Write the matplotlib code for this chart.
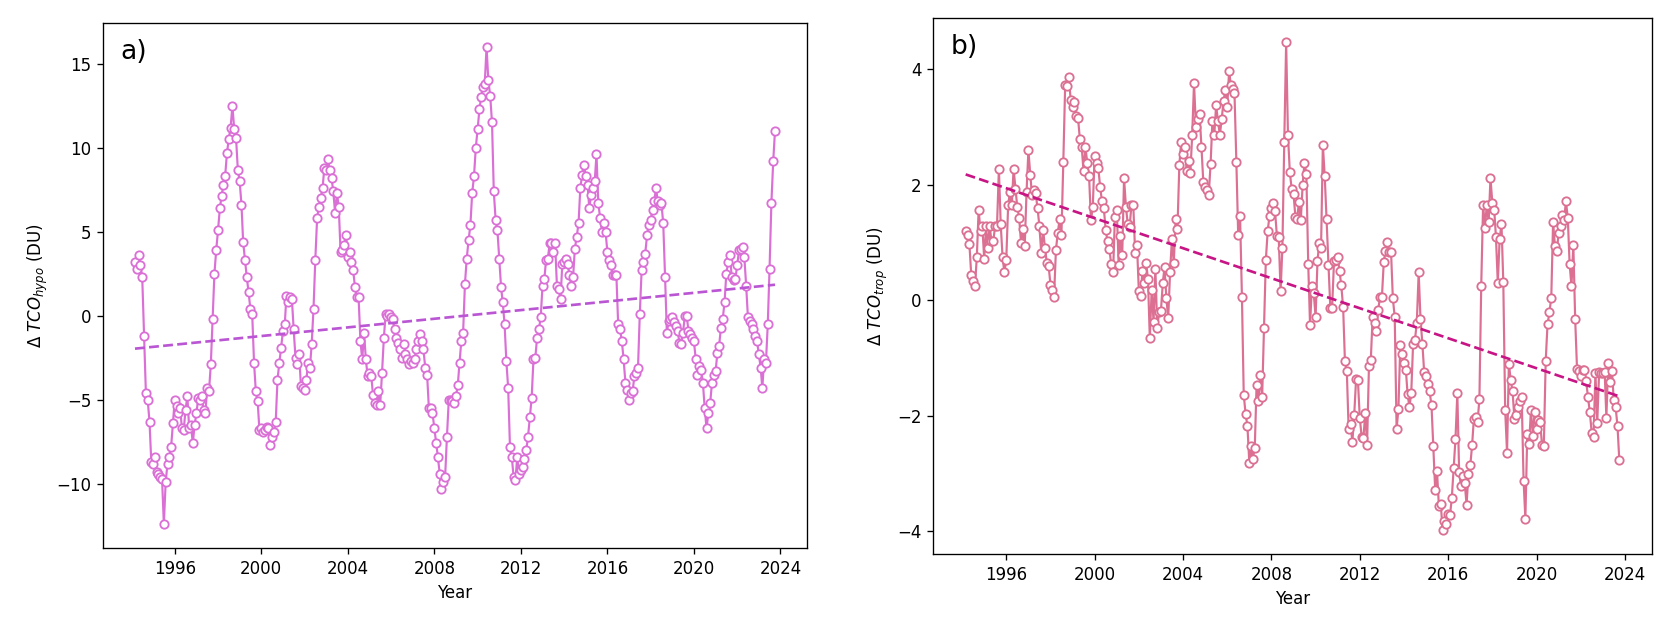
import numpy as np
import pandas as pd
import matplotlib
matplotlib.use("Agg")
import matplotlib.pyplot as plt
import matplotlib.dates as mdates

# monthly anomalies, Mar 1994 - Oct 2023
months = pd.date_range("1994-03-01", "2023-10-01", freq="MS")

# a) hypothetical TCO anomaly (DU), one row per year
hypo = [
    [3.2, 2.8, 3.6, 3.0, 2.3, -1.2, -4.6, -5.0, -6.3, -8.7],
    [-8.8, -8.4, -9.3, -9.4, -9.6, -9.7, -12.4, -9.9, -8.8, -8.4, -7.8, -6.4],
    [-5.0, -5.4, -5.8, -5.5, -6.7, -6.8, -5.6, -4.8, -6.7, -6.5, -7.6, -6.5],
    [-5.8, -4.9, -5.0, -4.8, -5.6, -5.8, -4.3, -4.5, -2.9, -0.2, 2.5, 3.9],
    [5.1, 6.4, 7.1, 7.8, 8.3, 9.7, 10.5, 11.2, 12.5, 11.1, 10.6, 8.7],
    [8.0, 6.6, 4.4, 3.3, 2.3, 1.4, 0.4, 0.1, -2.8, -4.5, -5.1, -6.8],
    [-6.7, -6.9, -6.8, -6.6, -6.7, -7.7, -7.2, -6.9, -6.3, -3.8, -2.8, -1.9],
    [-0.9, -0.5, 1.2, 0.8, 1.1, 1.0, -0.8, -2.5, -2.9, -2.3, -4.2, -4.3],
    [-4.4, -3.8, -2.8, -3.1, -1.7, 0.4, 3.3, 5.8, 6.5, 7.0, 7.6, 8.8],
    [8.7, 9.3, 8.7, 8.2, 7.4, 6.1, 7.3, 6.5, 3.8, 3.9, 4.2, 4.8],
    [3.5, 3.8, 3.2, 2.7, 1.7, 1.1, 1.1, -1.5, -2.6, -1.0, -2.6, -3.6],
    [-3.4, -3.6, -4.7, -5.2, -5.3, -4.5, -5.3, -3.4, -1.3, 0.1, 0.0, 0.1],
    [-0.1, -0.2, -0.8, -1.3, -1.6, -2.0, -2.5, -1.7, -2.3, -2.6, -2.9, -2.7],
    [-2.8, -2.6, -2.0, -1.5, -1.1, -1.5, -2.0, -3.1, -3.5, -5.5, -5.5, -5.8],
    [-6.7, -7.6, -8.4, -9.4, -10.3, -9.9, -9.6, -7.2, -5.0, -5.0, -5.1, -5.2],
    [-4.8, -4.1, -2.8, -1.5, -1.0, 1.9, 3.4, 4.5, 5.4, 7.3, 8.3, 10.0],
    [11.1, 12.3, 13.0, 13.6, 13.8, 16.0, 14.0, 13.1, 11.5, 7.4, 5.7, 5.1],
    [3.4, 1.7, 0.8, -0.5, -2.7, -4.3, -7.8, -8.4, -9.6, -9.8, -8.4, -9.4],
    [-9.2, -9.0, -8.5, -8.0, -7.2, -6.0, -4.9, -2.6, -2.5, -1.3, -0.8, -0.1],
    [1.8, 2.2, 3.3, 3.4, 4.3, 4.3, 3.8, 4.3, 1.8, 1.6, 1.0, 3.1],
    [3.2, 3.4, 3.1, 2.4, 1.8, 2.3, 4.0, 4.7, 5.5, 7.6, 8.4, 9.0],
    [8.3, 7.8, 6.4, 7.2, 7.6, 8.0, 9.6, 6.7, 5.8, 5.0, 5.5, 5.0],
    [3.8, 3.3, 3.0, 2.4, 2.4, 2.4, -0.5, -0.8, -1.5, -2.6, -4.0, -4.4],
    [-5.0, -4.6, -4.5, -3.6, -3.4, -3.1, 0.1, 2.7, 3.2, 3.7, 4.8, 5.4],
    [5.7, 6.3, 6.8, 7.6, 6.8, 6.6, 6.7, 5.5, 2.3, -1.0, -0.3, -0.2],
    [-0.1, -0.4, -0.6, -0.9, -1.6, -1.7, -1.0, 0.0, 0.0, -0.9, -1.1, -1.3],
    [-1.5, -2.6, -3.5, -3.0, -3.2, -4.0, -5.5, -6.7, -5.8, -5.2, -4.0, -3.5],
    [-3.3, -2.2, -1.8, -0.7, -0.2, 0.8, 2.5, 3.2, 3.6, 2.3, 2.1, 2.2],
    [3.0, 3.9, 4.0, 4.1, 3.5, 1.8, -0.1, -0.3, -0.5, -0.8, -1.2, -1.5],
    [-2.3, -3.1, -4.3, -2.6, -2.8, -0.5, 2.8, 6.7, 9.2, 11.0],
]

# b) tropospheric TCO anomaly (DU)
trop = [
    [1.20, 1.13, 0.98, 0.43, 0.33, 0.24, 0.74, 1.56, 1.19, 1.28],
    [0.72, 1.28, 0.90, 1.29, 1.02, 1.03, 1.28, 1.29, 2.27, 1.32, 0.74, 0.48],
    [0.70, 1.64, 1.87, 1.64, 2.27, 1.93, 1.61, 1.43, 0.99, 1.23, 0.93, 1.87],
    [2.59, 2.17, 1.82, 1.90, 1.85, 1.59, 1.29, 0.82, 1.22, 0.91, 0.65, 0.59],
    [0.27, 0.18, 0.06, 0.87, 1.16, 1.40, 1.13, 2.39, 3.73, 3.70, 3.86, 3.46],
    [3.34, 3.43, 3.18, 3.16, 2.79, 2.65, 2.24, 2.65, 2.38, 2.14, 1.38, 1.61],
    [2.50, 2.38, 2.29, 1.96, 1.71, 1.59, 1.22, 1.02, 0.88, 0.62, 0.48, 1.44],
    [1.56, 0.61, 1.11, 0.78, 2.11, 1.62, 1.32, 1.26, 1.65, 1.64, 0.81, 0.96],
    [0.15, 0.07, 0.51, 0.29, 0.65, 0.36, -0.66, 0.18, -0.37, 0.54, -0.48, -0.21],
    [-0.18, 0.30, 0.57, 0.03, -0.31, 0.48, 1.05, 0.64, 1.40, 1.23, 2.33, 2.74],
    [2.52, 2.65, 2.23, 2.40, 2.20, 2.86, 3.76, 3.00, 3.13, 3.22, 2.65, 2.05],
    [1.96, 1.90, 1.82, 2.36, 3.10, 2.86, 3.37, 3.10, 2.86, 3.13, 3.44, 3.64],
    [3.35, 3.96, 3.73, 3.66, 3.58, 2.39, 1.13, 1.46, 0.06, -1.64, -1.97, -2.18],
    [-2.81, -2.53, -2.74, -2.56, -1.47, -1.74, -1.29, -1.68, -0.48, 0.69, 1.20, 1.46],
    [1.59, 1.68, 1.55, 1.11, 1.10, 0.15, 0.91, 2.74, 4.46, 2.86, 2.21, 1.93],
    [1.84, 1.44, 1.41, 1.70, 1.38, 2.00, 2.38, 2.18, 0.63, -0.43, 0.25, 0.12],
    [-0.29, 0.67, 0.99, 0.91, 2.69, 2.14, 1.40, 0.61, -0.13, -0.13, 0.67, 0.69],
    [0.74, 0.50, 0.26, -0.12, -1.06, -1.23, -2.23, -2.14, -2.45, -1.99, -1.37, -1.38],
    [-2.03, -2.36, -2.38, -1.96, -2.50, -1.14, -1.04, -0.29, -0.39, -0.53, -0.17, 0.06],
    [0.05, 0.66, 0.85, 1.01, 0.84, 0.84, 0.03, -0.29, -2.23, -1.88, -0.77, -0.93],
    [-1.08, -1.20, -1.62, -1.85, -1.61, -0.75, -0.69, -0.39, 0.48, -0.32, -0.75, -1.25],
    [-1.31, -1.45, -1.58, -1.82, -2.53, -3.28, -2.96, -3.56, -3.52, -3.97, -3.82, -3.88],
    [-3.70, -3.72, -3.43, -2.91, -2.41, -1.61, -2.98, -3.22, -3.04, -3.16, -3.54, -3.01],
    [-2.86, -2.50, -2.05, -2.02, -2.11, -1.71, 0.25, 1.65, 1.25, 1.65, 1.35, 2.11],
    [1.68, 1.56, 1.10, 0.30, 1.05, 1.32, 0.31, -1.90, -2.64, -1.10, -1.38, -1.58],
    [-2.05, -1.99, -1.85, -1.74, -1.67, -3.12, -3.78, -2.32, -2.48, -1.90, -2.35, -1.93],
    [-2.23, -2.08, -2.11, -2.50, -2.52, -1.05, -0.42, -0.21, 0.04, 1.35, 0.93, 0.85],
    [1.16, 1.28, 1.47, 1.38, 1.71, 1.43, 0.63, 0.24, 0.95, -0.32, -1.19, -1.23],
    [-1.31, -1.20, -1.20, -1.40, -1.68, -1.94, -2.29, -2.36, -1.26, -2.12, -1.25, -1.26],
    [-1.26, -1.25, -2.03, -1.08, -1.41, -1.22, -1.73, -1.85, -2.18, -2.77],
]

hypo = np.concatenate(hypo)
trop = np.concatenate(trop)
t = mdates.date2num(months)

panels = [
    (hypo, "orchid", "mediumorchid", r"$\Delta\ TCO_{hypo}$ (DU)", "a)",
     [103 / 1670, 81 / 629, 704 / 1670, 525 / 629]),
    (trop, "palevioletred", "mediumvioletred", r"$\Delta\ TCO_{trop}$ (DU)", "b)",
     [933 / 1670, 75 / 629, 719 / 1670, 536 / 629]),
]

fig = plt.figure(figsize=(1670 / 120, 629 / 120), dpi=120)

for y, col, tcol, ylab, tag, rect in panels:
    ax = fig.add_axes(rect)
    ax.plot(t, y, "o-", color=col, lw=1.3, ms=5, mfc="white", mec=col, mew=1.1)
    # linear trend
    p = np.polyfit(t, y, 1)
    ax.plot(t[[0, -1]], np.polyval(p, t[[0, -1]]), "--", color=tcol, lw=1.6)
    ax.xaxis.set_major_locator(mdates.YearLocator(4))
    ax.xaxis.set_major_formatter(mdates.DateFormatter("%Y"))
    ax.set_xlabel("Year")
    ax.set_ylabel(ylab)
    ax.text(0.025, 0.945, tag, transform=ax.transAxes, fontsize=16, va="center")

fig.savefig("out.png", dpi=120)
